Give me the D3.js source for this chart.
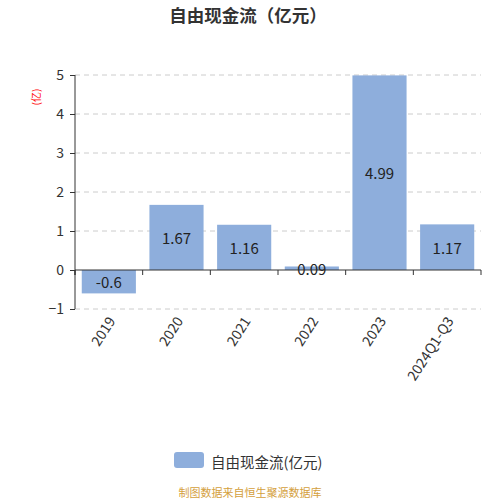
<!DOCTYPE html>
<html>
<head>
<meta charset="utf-8">
<script src="https://cdn.jsdelivr.net/npm/d3@7"></script>
<style>
  body { margin: 0; background: #fff; }
  svg { font-family: "Noto Sans CJK SC", "Noto Sans", sans-serif; display: block; }
</style>
</head>
<body>
<div id="chart"></div>
<script>
// data
const years = ["2019", "2020", "2021", "2022", "2023", "2024Q1-Q3"];
const cashFlow = [-0.6, 1.67, 1.16, 0.09, 4.99, 1.17];
const yTicks = [-1, 0, 1, 2, 3, 4, 5];

const width = 500, height = 500;
const barColor = "#8eaedc";

const svg = d3.select("#chart").append("svg")
    .attr("width", width)
    .attr("height", height);

const x = d3.scaleBand()
    .domain(years)
    .range([75, 481])
    .paddingInner(0.2)
    .paddingOuter(0.1);

const y = d3.scaleLinear()
    .domain([-1, 5])
    .range([309, 75]);

// title
svg.append("text")
    .attr("x", 248).attr("y", 22)
    .attr("text-anchor", "middle")
    .style("font-size", "17.5px")
    .style("font-weight", "bold")
    .style("fill", "#333")
    .text("自由现金流（亿元）");

// unit label
svg.append("text")
    .attr("transform", "translate(37,97) rotate(-90)")
    .attr("text-anchor", "middle")
    .attr("dominant-baseline", "middle")
    .style("font-size", "10px")
    .style("fill", "red")
    .text("(亿)");

// grid lines
svg.append("g")
    .selectAll("line")
    .data(yTicks.filter(d => d !== 0))
    .join("line")
    .attr("x1", 75).attr("x2", 481)
    .attr("y1", d => y(d)).attr("y2", d => y(d))
    .attr("stroke", "#ccc")
    .attr("stroke-dasharray", "5,4");

// bars
svg.append("g")
    .selectAll("rect")
    .data(years)
    .join("rect")
    .attr("x", d => x(d))
    .attr("width", x.bandwidth())
    .attr("y", (d, i) => y(Math.max(0, cashFlow[i])))
    .attr("height", (d, i) => Math.abs(y(cashFlow[i]) - y(0)))
    .attr("fill", barColor);

// value labels
svg.append("g")
    .selectAll("text")
    .data(years)
    .join("text")
    .attr("x", d => x(d) + x.bandwidth() / 2)
    .attr("y", (d, i) => (y(cashFlow[i]) + y(0)) / 2)
    .attr("text-anchor", "middle")
    .attr("dominant-baseline", "central")
    .style("font-size", "15px")
    .style("fill", "#222")
    .text((d, i) => cashFlow[i]);

// y axis
const yAxis = svg.append("g")
    .attr("transform", "translate(75,0)")
    .call(d3.axisLeft(y).tickValues(yTicks).tickSize(5).tickPadding(6).tickFormat(d3.format("d")));
yAxis.select(".domain").attr("stroke", "#333").attr("d", `M0,${y(5)}V${y(-1)}`);
yAxis.selectAll(".tick line").attr("stroke", "#333");
yAxis.selectAll(".tick text")
    .style("font-size", "14px")
    .style("fill", "#333")
    .style("font-family", "'Noto Sans CJK SC', sans-serif");

// x axis on zero line
const xAxis = svg.append("g")
    .attr("transform", `translate(0,${y(0)})`)
    .call(d3.axisBottom(x).tickSize(5).tickFormat(""));
xAxis.select(".domain").attr("stroke", "#333").attr("d", "M75,5V0H481V5");
xAxis.selectAll(".tick line")
    .attr("stroke", "#333")
    .attr("transform", `translate(${-x.step() / 2},0)`);

// rotated category labels below the plot
svg.append("g")
    .selectAll("text")
    .data(years)
    .join("text")
    .attr("transform", d => `translate(${x(d) + x.bandwidth() / 2 + 4},${y(-1) + 10}) rotate(-57)`)
    .attr("text-anchor", "end")
    .attr("dominant-baseline", "middle")
    .style("font-size", "14px")
    .style("fill", "#333")
    .text(d => d);

// legend
svg.append("rect")
    .attr("x", 174).attr("y", 452)
    .attr("width", 30).attr("height", 16)
    .attr("rx", 3)
    .attr("fill", barColor);
svg.append("text")
    .attr("x", 211).attr("y", 461)
    .attr("dominant-baseline", "central")
    .style("font-size", "14.5px")
    .style("fill", "#333")
    .text("自由现金流(亿元)");

// source note
svg.append("text")
    .attr("x", 250).attr("y", 492)
    .attr("text-anchor", "middle")
    .attr("dominant-baseline", "central")
    .style("font-size", "11px")
    .style("fill", "#d4a03c")
    .text("制图数据来自恒生聚源数据库");
</script>
</body>
</html>
